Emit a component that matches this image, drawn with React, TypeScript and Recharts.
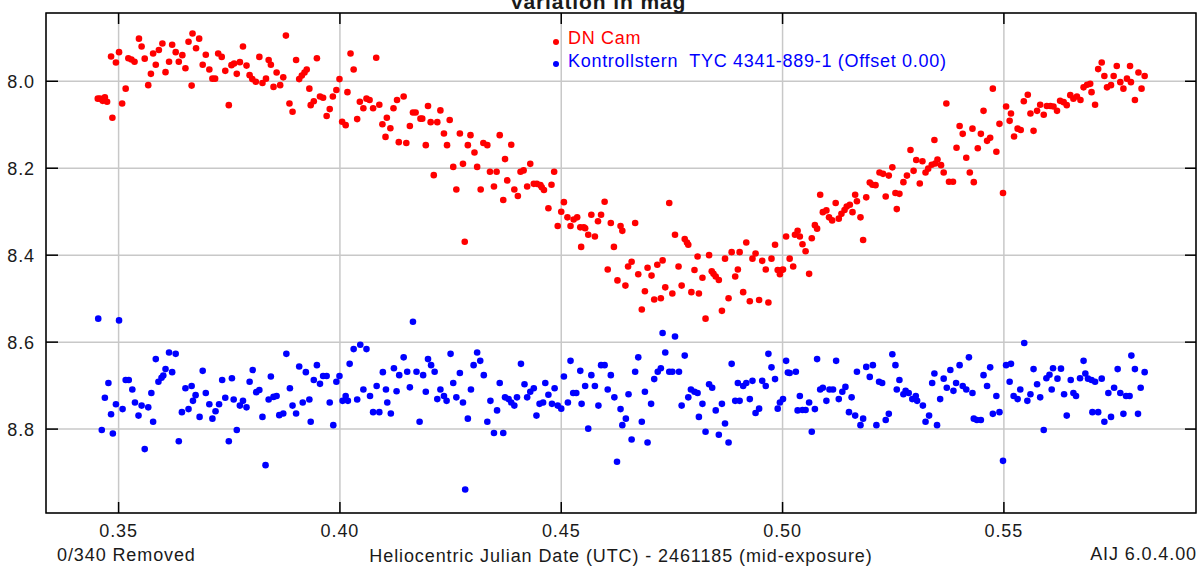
import React from 'react';
import { ScatterChart, Scatter, XAxis, YAxis, CartesianGrid, ReferenceArea, Legend } from 'recharts';

// HJD - 2461185, magnitude
const dnCam: [number, number][] = [
  [0.3453, 8.040], [0.3458, 8.040], [0.3464, 8.045], [0.3469, 8.037], [0.3474, 8.047], [0.3483, 7.943], [0.3486, 8.084], [0.3494, 7.957], [0.3501, 7.933], [0.3508, 8.051],
  [0.3516, 8.017], [0.3522, 7.947], [0.3529, 7.950], [0.3536, 7.955], [0.3546, 7.902], [0.3552, 7.920], [0.3559, 7.948], [0.3567, 8.009], [0.3573, 7.983], [0.3578, 7.936],
  [0.3584, 7.962], [0.3591, 7.928], [0.3599, 7.913], [0.3606, 7.979], [0.3614, 7.955], [0.3621, 7.916], [0.3629, 7.933], [0.3636, 7.955], [0.3644, 7.940], [0.3651, 7.970],
  [0.3658, 7.909], [0.3665, 8.010], [0.3667, 7.890], [0.3675, 7.924], [0.3682, 7.902], [0.3690, 7.962], [0.3697, 7.939], [0.3705, 7.973], [0.3712, 7.994], [0.3718, 7.994],
  [0.3725, 7.936], [0.3733, 7.944], [0.3741, 7.976], [0.3749, 8.055], [0.3755, 7.963], [0.3761, 7.959], [0.3767, 7.983], [0.3774, 7.956], [0.3781, 7.920], [0.3789, 7.964],
  [0.3796, 7.986], [0.3802, 7.995], [0.3810, 8.001], [0.3818, 7.944], [0.3825, 8.004], [0.3833, 7.994], [0.3839, 7.951], [0.3844, 7.962], [0.3850, 8.013], [0.3857, 7.980],
  [0.3865, 8.009], [0.3872, 7.991], [0.3878, 7.895], [0.3886, 8.051], [0.3893, 8.070], [0.3901, 7.951], [0.3908, 7.995], [0.3914, 7.987], [0.3920, 7.980], [0.3925, 7.973],
  [0.3931, 8.017], [0.3934, 8.055], [0.3941, 8.046], [0.3948, 7.947], [0.3955, 8.035], [0.3962, 8.038], [0.3970, 8.080], [0.3977, 8.064], [0.3984, 8.035], [0.3992, 8.020],
  [0.3999, 7.995], [0.4005, 8.093], [0.4013, 8.101], [0.4017, 8.025], [0.4024, 7.936], [0.4031, 7.973], [0.4039, 8.087], [0.4045, 8.047], [0.4053, 8.062], [0.4060, 8.040],
  [0.4067, 8.043], [0.4075, 8.062], [0.4082, 7.946], [0.4089, 8.054], [0.4096, 8.099], [0.4103, 8.128], [0.4106, 8.084], [0.4114, 8.108], [0.4121, 8.062], [0.4129, 8.043],
  [0.4133, 8.140], [0.4144, 8.035], [0.4150, 8.142], [0.4158, 8.103], [0.4165, 8.072], [0.4171, 8.072], [0.4182, 8.086], [0.4186, 8.086], [0.4194, 8.147], [0.4199, 8.057],
  [0.4205, 8.094], [0.4212, 8.216], [0.4220, 8.094], [0.4227, 8.067], [0.4235, 8.120], [0.4242, 8.147], [0.4248, 8.089], [0.4256, 8.197], [0.4263, 8.249], [0.4271, 8.120],
  [0.4278, 8.190], [0.4282, 8.369], [0.4289, 8.147], [0.4295, 8.124], [0.4304, 8.164], [0.4310, 8.197], [0.4318, 8.249], [0.4324, 8.142], [0.4333, 8.147], [0.4339, 8.208],
  [0.4348, 8.242], [0.4354, 8.208], [0.4361, 8.124], [0.4369, 8.273], [0.4373, 8.179], [0.4378, 8.228], [0.4387, 8.146], [0.4394, 8.249], [0.4402, 8.264], [0.4408, 8.208],
  [0.4415, 8.205], [0.4423, 8.242], [0.4430, 8.190], [0.4438, 8.236], [0.4445, 8.236], [0.4453, 8.239], [0.4456, 8.244], [0.4461, 8.250], [0.4471, 8.292], [0.4478, 8.238],
  [0.4484, 8.208], [0.4492, 8.333], [0.4500, 8.300], [0.4506, 8.278], [0.4514, 8.313], [0.4521, 8.333], [0.4528, 8.318], [0.4536, 8.313], [0.4543, 8.336], [0.4545, 8.381],
  [0.4551, 8.336], [0.4554, 8.338], [0.4561, 8.353], [0.4568, 8.307], [0.4576, 8.357], [0.4583, 8.322], [0.4590, 8.307], [0.4598, 8.277], [0.4605, 8.433], [0.4612, 8.326],
  [0.4619, 8.381], [0.4627, 8.458], [0.4634, 8.333], [0.4638, 8.344], [0.4645, 8.470], [0.4651, 8.426], [0.4659, 8.415], [0.4667, 8.326], [0.4674, 8.444], [0.4682, 8.525],
  [0.4689, 8.483], [0.4695, 8.429], [0.4704, 8.447], [0.4710, 8.502], [0.4717, 8.422], [0.4725, 8.499], [0.4729, 8.412], [0.4735, 8.474], [0.4744, 8.280], [0.4751, 8.488],
  [0.4757, 8.353], [0.4765, 8.426], [0.4772, 8.470], [0.4779, 8.363], [0.4784, 8.371], [0.4787, 8.376], [0.4794, 8.485], [0.4801, 8.434], [0.4808, 8.403], [0.4811, 8.488],
  [0.4819, 8.452], [0.4826, 8.546], [0.4834, 8.400], [0.4840, 8.437], [0.4844, 8.443], [0.4849, 8.449], [0.4856, 8.457], [0.4863, 8.528], [0.4870, 8.408], [0.4878, 8.499],
  [0.4885, 8.393], [0.4893, 8.449], [0.4899, 8.433], [0.4903, 8.393], [0.4911, 8.485], [0.4918, 8.371], [0.4926, 8.506], [0.4932, 8.408], [0.4939, 8.396], [0.4947, 8.503],
  [0.4954, 8.413], [0.4962, 8.433], [0.4968, 8.509], [0.4975, 8.408], [0.4983, 8.376], [0.4989, 8.434], [0.4994, 8.444], [0.4998, 8.434], [0.5001, 8.433], [0.5008, 8.357],
  [0.5016, 8.408], [0.5024, 8.426], [0.5028, 8.353], [0.5034, 8.344], [0.5039, 8.357], [0.5045, 8.375], [0.5052, 8.391], [0.5060, 8.443], [0.5066, 8.361], [0.5073, 8.331],
  [0.5078, 8.339], [0.5085, 8.261], [0.5091, 8.301], [0.5099, 8.297], [0.5105, 8.313], [0.5112, 8.320], [0.5120, 8.280], [0.5127, 8.316], [0.5133, 8.305], [0.5140, 8.296],
  [0.5145, 8.288], [0.5152, 8.284], [0.5158, 8.301], [0.5164, 8.261], [0.5168, 8.276], [0.5176, 8.313], [0.5182, 8.365], [0.5189, 8.267], [0.5197, 8.233], [0.5203, 8.238],
  [0.5210, 8.239], [0.5219, 8.210], [0.5227, 8.213], [0.5233, 8.265], [0.5240, 8.217], [0.5248, 8.198], [0.5255, 8.257], [0.5258, 8.294], [0.5264, 8.259], [0.5273, 8.232],
  [0.5281, 8.217], [0.5289, 8.158], [0.5296, 8.206], [0.5302, 8.181], [0.5310, 8.235], [0.5316, 8.184], [0.5323, 8.210], [0.5329, 8.201], [0.5337, 8.192], [0.5343, 8.135],
  [0.5345, 8.189], [0.5350, 8.180], [0.5358, 8.193], [0.5364, 8.210], [0.5370, 8.051], [0.5376, 8.231], [0.5385, 8.231], [0.5393, 8.153], [0.5400, 8.103], [0.5407, 8.121],
  [0.5415, 8.176], [0.5423, 8.210], [0.5429, 8.109], [0.5432, 8.232], [0.5441, 8.154], [0.5448, 8.121], [0.5454, 8.068], [0.5462, 8.137], [0.5469, 8.130], [0.5475, 8.017],
  [0.5483, 8.162], [0.5490, 8.098], [0.5498, 8.257], [0.5505, 8.058], [0.5513, 8.091], [0.5516, 8.074], [0.5523, 8.127], [0.5531, 8.109], [0.5538, 8.112], [0.5545, 8.046],
  [0.5554, 8.031], [0.5560, 8.074], [0.5567, 8.114], [0.5575, 8.068], [0.5582, 8.054], [0.5590, 8.077], [0.5597, 8.057], [0.5605, 8.057], [0.5612, 8.058], [0.5620, 8.068],
  [0.5627, 8.045], [0.5635, 8.048], [0.5642, 8.055], [0.5650, 8.032], [0.5657, 8.040], [0.5665, 8.035], [0.5673, 8.043], [0.5680, 8.014], [0.5688, 8.008], [0.5695, 8.006],
  [0.5698, 8.025], [0.5706, 8.054], [0.5713, 7.972], [0.5721, 7.957], [0.5727, 7.988], [0.5733, 8.014], [0.5742, 8.009], [0.5748, 7.988], [0.5755, 7.965], [0.5763, 8.002],
  [0.5770, 8.017], [0.5778, 7.994], [0.5785, 7.965], [0.5787, 8.002], [0.5796, 8.043], [0.5804, 7.980], [0.5811, 8.017], [0.5818, 7.988],
];

const checkStar: [number, number][] = [
  [0.3454, 8.546], [0.3462, 8.802], [0.3469, 8.728], [0.3477, 8.694], [0.3483, 8.766], [0.3487, 8.810], [0.3494, 8.743], [0.3501, 8.550], [0.3509, 8.754], [0.3516, 8.687],
  [0.3523, 8.687], [0.3531, 8.709], [0.3537, 8.739], [0.3545, 8.769], [0.3552, 8.746], [0.3559, 8.846], [0.3567, 8.750], [0.3574, 8.717], [0.3578, 8.783], [0.3584, 8.639],
  [0.3590, 8.691], [0.3597, 8.682], [0.3601, 8.677], [0.3606, 8.662], [0.3614, 8.624], [0.3621, 8.669], [0.3629, 8.627], [0.3636, 8.828], [0.3643, 8.761], [0.3651, 8.706],
  [0.3658, 8.754], [0.3665, 8.701], [0.3668, 8.735], [0.3674, 8.722], [0.3683, 8.772], [0.3690, 8.666], [0.3697, 8.717], [0.3705, 8.743], [0.3712, 8.776], [0.3719, 8.759],
  [0.3727, 8.743], [0.3734, 8.687], [0.3741, 8.728], [0.3749, 8.828], [0.3756, 8.683], [0.3760, 8.732], [0.3767, 8.802], [0.3774, 8.746], [0.3781, 8.735], [0.3789, 8.750],
  [0.3796, 8.691], [0.3803, 8.664], [0.3811, 8.715], [0.3818, 8.710], [0.3825, 8.772], [0.3832, 8.883], [0.3839, 8.732], [0.3844, 8.679], [0.3850, 8.726], [0.3857, 8.724],
  [0.3863, 8.768], [0.3872, 8.764], [0.3879, 8.627], [0.3887, 8.706], [0.3893, 8.746], [0.3901, 8.764], [0.3908, 8.656], [0.3916, 8.739], [0.3923, 8.669], [0.3931, 8.732],
  [0.3934, 8.783], [0.3941, 8.687], [0.3948, 8.653], [0.3955, 8.696], [0.3962, 8.678], [0.3970, 8.678], [0.3977, 8.739], [0.3985, 8.791], [0.3992, 8.691], [0.3999, 8.678],
  [0.4006, 8.735], [0.4013, 8.724], [0.4018, 8.735], [0.4022, 8.650], [0.4031, 8.616], [0.4039, 8.732], [0.4046, 8.606], [0.4053, 8.709], [0.4060, 8.616], [0.4068, 8.724],
  [0.4075, 8.761], [0.4083, 8.701], [0.4089, 8.761], [0.4097, 8.669], [0.4104, 8.709], [0.4107, 8.739], [0.4115, 8.764], [0.4122, 8.660], [0.4128, 8.713], [0.4134, 8.676],
  [0.4144, 8.635], [0.4152, 8.668], [0.4158, 8.704], [0.4165, 8.553], [0.4173, 8.668], [0.4180, 8.783], [0.4188, 8.676], [0.4194, 8.714], [0.4199, 8.639], [0.4206, 8.653],
  [0.4214, 8.668], [0.4220, 8.731], [0.4227, 8.709], [0.4235, 8.724], [0.4241, 8.735], [0.4250, 8.627], [0.4256, 8.694], [0.4263, 8.727], [0.4271, 8.671], [0.4278, 8.739],
  [0.4283, 8.939], [0.4289, 8.776], [0.4296, 8.709], [0.4302, 8.653], [0.4310, 8.624], [0.4317, 8.643], [0.4325, 8.676], [0.4333, 8.783], [0.4340, 8.735], [0.4348, 8.809],
  [0.4355, 8.757], [0.4361, 8.694], [0.4369, 8.809], [0.4373, 8.727], [0.4381, 8.731], [0.4387, 8.739], [0.4394, 8.746], [0.4400, 8.727], [0.4409, 8.650], [0.4417, 8.697],
  [0.4423, 8.727], [0.4430, 8.714], [0.4438, 8.706], [0.4444, 8.769], [0.4451, 8.742], [0.4459, 8.739], [0.4464, 8.694], [0.4471, 8.721], [0.4479, 8.742], [0.4485, 8.706],
  [0.4492, 8.746], [0.4500, 8.753], [0.4506, 8.679], [0.4515, 8.739], [0.4521, 8.643], [0.4527, 8.717], [0.4534, 8.717], [0.4543, 8.666], [0.4546, 8.742], [0.4554, 8.701],
  [0.4561, 8.799], [0.4568, 8.676], [0.4576, 8.701], [0.4584, 8.746], [0.4590, 8.653], [0.4598, 8.653], [0.4605, 8.709], [0.4612, 8.676], [0.4620, 8.727], [0.4626, 8.875],
  [0.4634, 8.754], [0.4638, 8.791], [0.4646, 8.776], [0.4652, 8.720], [0.4659, 8.824], [0.4667, 8.668], [0.4674, 8.635], [0.4682, 8.783], [0.4689, 8.714], [0.4695, 8.831],
  [0.4703, 8.742], [0.4710, 8.685], [0.4718, 8.668], [0.4725, 8.660], [0.4729, 8.579], [0.4735, 8.624], [0.4744, 8.668], [0.4751, 8.668], [0.4757, 8.587], [0.4766, 8.668],
  [0.4772, 8.746], [0.4779, 8.631], [0.4787, 8.727], [0.4793, 8.709], [0.4801, 8.714], [0.4808, 8.717], [0.4811, 8.772], [0.4819, 8.742], [0.4826, 8.806], [0.4834, 8.697],
  [0.4841, 8.705], [0.4849, 8.757], [0.4856, 8.813], [0.4863, 8.742], [0.4870, 8.787], [0.4878, 8.831], [0.4885, 8.650], [0.4893, 8.735], [0.4899, 8.694], [0.4903, 8.735],
  [0.4911, 8.701], [0.4918, 8.694], [0.4926, 8.731], [0.4932, 8.689], [0.4939, 8.763], [0.4947, 8.753], [0.4954, 8.689], [0.4962, 8.701], [0.4968, 8.627], [0.4975, 8.658],
  [0.4983, 8.685], [0.4989, 8.753], [0.4994, 8.739], [0.5001, 8.731], [0.5008, 8.643], [0.5012, 8.670], [0.5016, 8.671], [0.5030, 8.668], [0.5034, 8.757], [0.5039, 8.724],
  [0.5045, 8.756], [0.5052, 8.756], [0.5060, 8.739], [0.5066, 8.806], [0.5073, 8.754], [0.5078, 8.639], [0.5085, 8.709], [0.5091, 8.705], [0.5099, 8.735], [0.5106, 8.709],
  [0.5114, 8.709], [0.5121, 8.643], [0.5127, 8.731], [0.5135, 8.714], [0.5142, 8.703], [0.5150, 8.761], [0.5156, 8.727], [0.5164, 8.769], [0.5168, 8.668], [0.5176, 8.791],
  [0.5182, 8.776], [0.5189, 8.657], [0.5197, 8.680], [0.5204, 8.653], [0.5212, 8.791], [0.5218, 8.691], [0.5225, 8.694], [0.5233, 8.779], [0.5240, 8.765], [0.5248, 8.628],
  [0.5255, 8.653], [0.5258, 8.709], [0.5264, 8.687], [0.5273, 8.720], [0.5278, 8.712], [0.5285, 8.717], [0.5293, 8.731], [0.5301, 8.724], [0.5304, 8.735], [0.5317, 8.746],
  [0.5323, 8.783], [0.5331, 8.769], [0.5338, 8.694], [0.5343, 8.672], [0.5349, 8.791], [0.5356, 8.731], [0.5364, 8.684], [0.5371, 8.705], [0.5379, 8.664], [0.5386, 8.712],
  [0.5392, 8.694], [0.5400, 8.653], [0.5407, 8.701], [0.5415, 8.709], [0.5421, 8.635], [0.5429, 8.717], [0.5432, 8.776], [0.5439, 8.779], [0.5448, 8.779], [0.5454, 8.676],
  [0.5462, 8.701], [0.5469, 8.658], [0.5475, 8.765], [0.5483, 8.724], [0.5490, 8.761], [0.5498, 8.873], [0.5505, 8.653], [0.5513, 8.691], [0.5516, 8.650], [0.5522, 8.724],
  [0.5531, 8.731], [0.5537, 8.709], [0.5546, 8.602], [0.5553, 8.735], [0.5560, 8.720], [0.5567, 8.662], [0.5575, 8.697], [0.5582, 8.727], [0.5590, 8.802], [0.5596, 8.683],
  [0.5603, 8.675], [0.5608, 8.709], [0.5611, 8.660], [0.5621, 8.684], [0.5629, 8.661], [0.5636, 8.720], [0.5642, 8.769], [0.5651, 8.687], [0.5657, 8.717], [0.5663, 8.724],
  [0.5672, 8.683], [0.5680, 8.643], [0.5684, 8.672], [0.5690, 8.684], [0.5698, 8.687], [0.5700, 8.761], [0.5706, 8.691], [0.5713, 8.761], [0.5721, 8.684], [0.5727, 8.783],
  [0.5736, 8.717], [0.5742, 8.772], [0.5749, 8.705], [0.5757, 8.662], [0.5763, 8.717], [0.5770, 8.765], [0.5776, 8.724], [0.5784, 8.724], [0.5788, 8.631], [0.5796, 8.662],
  [0.5803, 8.765], [0.5809, 8.705], [0.5818, 8.669],
];

const xTicks = [0.35, 0.4, 0.45, 0.5, 0.55];
const yTicks = [8.0, 8.2, 8.4, 8.6, 8.8];
const X_DOMAIN: [number, number] = [0.3336, 0.5934];
const Y_DOMAIN: [number, number] = [7.843, 8.993];

const TITLE = 'Variation in mag';
const X_LABEL = 'Heliocentric Julian Date (UTC) - 2461185 (mid-exposure)';
const RED = '#ff0000';
const BLUE = '#0000ff';

const W = 1198;
const H = 567;
const PLOT = { left: 46, right: 1196, top: 13, bottom: 513 };
const TEXT = '#1a1a1a';

const toPoints = (rows: [number, number][]) => rows.map(([x, y]) => ({ x, y }));

function XTick(props: any) {
  const { x, y, payload } = props;
  return (
    <g>
      <line x1={x} x2={x} y1={y} y2={y - 11} stroke="#000" strokeWidth={1.5} />
      <line x1={x} x2={x} y1={PLOT.top} y2={PLOT.top + 11} stroke="#000" strokeWidth={1.5} />
      <text x={x} y={y + 24} textAnchor="middle" fontSize={18} fill={TEXT}>
        {Number(payload.value).toFixed(2)}
      </text>
    </g>
  );
}

function YTick(props: any) {
  const { x, y, payload } = props;
  return (
    <g>
      <line x1={x} x2={x + 12} y1={y} y2={y} stroke="#000" strokeWidth={1.5} />
      <line x1={PLOT.right} x2={PLOT.right - 11} y1={y} y2={y} stroke="#000" strokeWidth={1.5} />
      <text x={x - 11} y={y + 7} textAnchor="end" fontSize={18} fill={TEXT}>
        {Number(payload.value).toFixed(1)}
      </text>
    </g>
  );
}

function LegendBox(props: any) {
  const items = props.payload || [];
  return (
    <div style={{ fontSize: 18, lineHeight: '22.7px', letterSpacing: '0.7px' }}>
      {items.map((it: any) => (
        <div key={it.value} style={{ display: 'flex', alignItems: 'center', color: it.color }}>
          <span
            style={{
              display: 'inline-block',
              width: 6,
              height: 6,
              borderRadius: 3,
              background: it.color,
              marginRight: 9,
              position: 'relative',
              top: 3,
            }}
          />
          <span>{it.value}</span>
        </div>
      ))}
    </div>
  );
}

const dot = (color: string) => (p: any) => <circle cx={p.cx} cy={p.cy} r={3.3} fill={color} />;

export default function App() {
  return (
    <div
      style={{
        position: 'absolute',
        left: 0,
        top: 0,
        width: W,
        height: H,
        background: '#fff',
        fontFamily: '"Liberation Sans", Arial, sans-serif',
        letterSpacing: '0.9px',
        overflow: 'hidden',
      }}
    >
      <ScatterChart width={W} height={H} margin={{ top: PLOT.top, right: W - PLOT.right, bottom: 0, left: 0 }}>
        <CartesianGrid stroke="#c8c8c8" strokeWidth={1.5} />
        <XAxis
          type="number"
          dataKey="x"
          domain={X_DOMAIN}
          ticks={xTicks}
          allowDataOverflow
          height={H - PLOT.bottom}
          axisLine={false}
          tickLine={false}
          tickSize={0}
          tickMargin={0}
          tick={<XTick />}
          label={{ value: X_LABEL, position: 'insideBottom', offset: 5, fill: TEXT, fontSize: 18 }}
        />
        <YAxis
          type="number"
          dataKey="y"
          domain={Y_DOMAIN}
          ticks={yTicks}
          reversed
          allowDataOverflow
          width={PLOT.left}
          axisLine={false}
          tickLine={false}
          tickSize={0}
          tickMargin={0}
          tick={<YTick />}
        />
        <ReferenceArea
          x1={X_DOMAIN[0]}
          x2={X_DOMAIN[1]}
          y1={Y_DOMAIN[0]}
          y2={Y_DOMAIN[1]}
          fill="none"
          stroke="#000"
          strokeWidth={1.5}
          ifOverflow="visible"
        />
        <Scatter name="DN Cam" data={toPoints(dnCam)} fill={RED} shape={dot(RED)} isAnimationActive={false} />
        <Scatter
          name="Kontrollstern  TYC 4341-889-1 (Offset 0.00)"
          data={toPoints(checkStar)}
          fill={BLUE}
          shape={dot(BLUE)}
          isAnimationActive={false}
        />
        <Legend
          layout="vertical"
          align="center"
          verticalAlign="middle"
          content={<LegendBox />}
          wrapperStyle={{ position: 'absolute', left: 553, top: 27.4, width: 460, whiteSpace: 'pre' }}
        />
      </ScatterChart>
      <div
        style={{
          position: 'absolute',
          left: 0,
          width: W - 2,
          top: -10.5,
          textAlign: 'center',
          fontSize: 21,
          fontWeight: 'bold',
          lineHeight: '24px',
          color: TEXT,
        }}
      >
        {TITLE}
      </div>
      <div style={{ position: 'absolute', left: 57, top: 544.7, fontSize: 18, lineHeight: '20px', color: TEXT }}>
        0/340 Removed
      </div>
      <div style={{ position: 'absolute', right: 1, top: 543.7, fontSize: 18, lineHeight: '20px', color: TEXT }}>
        AIJ 6.0.4.00
      </div>
    </div>
  );
}
